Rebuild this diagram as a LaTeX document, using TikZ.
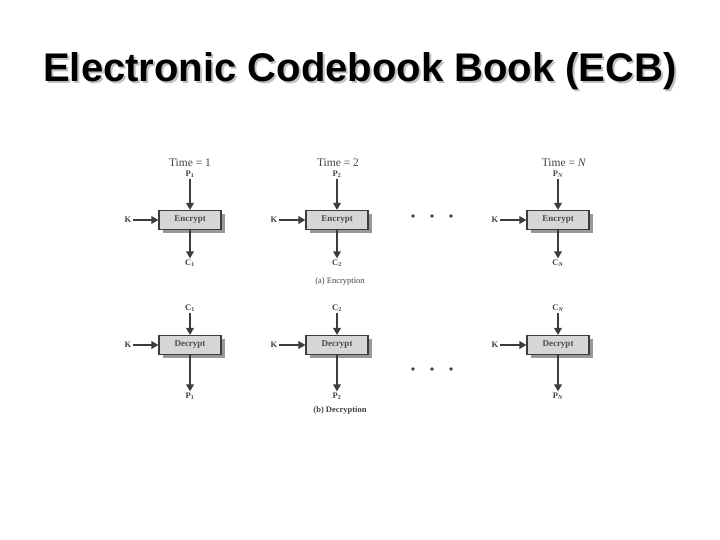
\documentclass[tikz,border=0pt]{standalone}
\usepackage{fontspec}
\setmainfont{Liberation Serif}
\newfontfamily\titlefont{Liberation Sans}
\usetikzlibrary{arrows.meta}
\definecolor{lnc}{HTML}{3C3C3C}
\definecolor{boxfill}{HTML}{D6D6D6}
\definecolor{shadowc}{HTML}{999999}
\tikzset{
  cbox/.style={draw=lnc, line width=1.1pt, fill=boxfill, minimum width=62pt, minimum height=19pt, inner sep=0pt, font=\fontsize{9}{10}\selectfont\bfseries, text=black!70},
  lbl/.style={font=\fontsize{8.5}{9}\selectfont\bfseries, text=black!75, inner sep=1pt},
  tlbl/.style={font=\fontsize{11.5}{12}\selectfont, text=black!75, inner sep=1pt},
  capt/.style={font=\fontsize{8.5}{9}\selectfont, text=black!75, inner sep=1pt},
  arr/.style={draw=lnc, line width=1.8pt, -{Triangle[length=7pt,width=7.5pt]}},
  dotn/.style={circle, fill=lnc, inner sep=0pt, minimum size=3.6pt},
}
\begin{document}
\begin{tikzpicture}[x=1pt,y=-1pt]
\useasboundingbox (0,0) rectangle (720,540);
% title
\node[font=\titlefont\fontsize{40}{44}\selectfont\bfseries, text=black!25] at (362,73) {Electronic Codebook Book (ECB)};
\node[font=\titlefont\fontsize{40}{44}\selectfont\bfseries, text=black] (title) at (360,71) {Electronic Codebook Book (ECB)};

% ---------- Encryption ----------
\foreach \cx in {190,337,558}{
  \fill[shadowc] (\cx-31+4,210+4) rectangle (\cx+31+4,229+4);
}
\node[cbox] (e1) at (190,220) {Encrypt};
\node[cbox] (e2) at (337,220) {Encrypt};
\node[cbox] (e3) at (558,220) {Encrypt};

\node[tlbl] (t1) at (190,163) {Time = 1};
\node[tlbl] (t2) at (338,163) {Time = 2};
\node[tlbl] (t3) at (564,163) {Time = \textit{N}};

\node[lbl] (p1) at (190,174) {P\textsubscript{1}};
\node[lbl] (p2) at (337,174) {P\textsubscript{2}};
\node[lbl] (p3) at (558,174) {P\textsubscript{\textit{N}}};

\node[lbl] (k1) at (128,220) {K};
\node[lbl] (k2) at (274,220) {K};
\node[lbl] (k3) at (495,220) {K};

\node[lbl] (c1) at (190,263) {C\textsubscript{1}};
\node[lbl] (c2) at (337,263) {C\textsubscript{2}};
\node[lbl] (c3) at (558,263) {C\textsubscript{\textit{N}}};

\foreach \n in {1,2,3}{
  \draw[arr] (p\n) -- (e\n.north);
  \draw[arr] (k\n) -- (e\n.west);
  \draw[arr] (e\n.south) -- (c\n);
}
\node[capt] (capa) at (340,281) {(a) Encryption};
\node[dotn] (da1) at (413,216) {};
\node[dotn] (da2) at (432,216) {};
\node[dotn] (da3) at (451,216) {};

% ---------- Decryption ----------
\foreach \cx in {190,337,558}{
  \fill[shadowc] (\cx-31+4,335+4) rectangle (\cx+31+4,354+4);
}
\node[cbox] (d1) at (190,345) {Decrypt};
\node[cbox] (d2) at (337,345) {Decrypt};
\node[cbox] (d3) at (558,345) {Decrypt};

\node[lbl] (ci1) at (190,308) {C\textsubscript{1}};
\node[lbl] (ci2) at (337,308) {C\textsubscript{2}};
\node[lbl] (ci3) at (558,308) {C\textsubscript{\textit{N}}};

\node[lbl] (kd1) at (128,345) {K};
\node[lbl] (kd2) at (274,345) {K};
\node[lbl] (kd3) at (495,345) {K};

\node[lbl] (po1) at (190,396) {P\textsubscript{1}};
\node[lbl] (po2) at (337,396) {P\textsubscript{2}};
\node[lbl] (po3) at (558,396) {P\textsubscript{\textit{N}}};

\foreach \n in {1,2,3}{
  \draw[arr] (ci\n) -- (d\n.north);
  \draw[arr] (kd\n) -- (d\n.west);
  \draw[arr] (d\n.south) -- (po\n);
}
\node[capt, font=\fontsize{8.5}{9}\selectfont\bfseries] (capb) at (340,410) {(b) Decryption};
\node[dotn] (db1) at (413,369) {};
\node[dotn] (db2) at (432,369) {};
\node[dotn] (db3) at (451,369) {};
\end{tikzpicture}
\end{document}
